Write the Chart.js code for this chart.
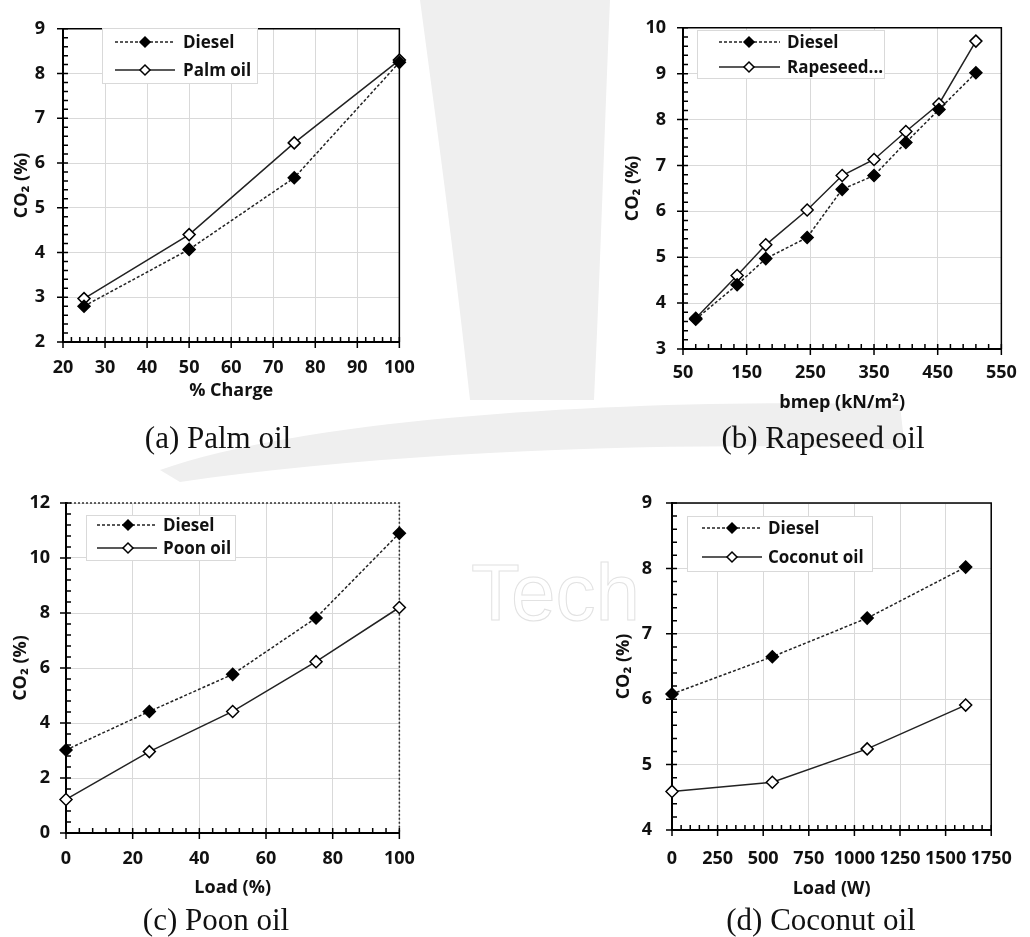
<!DOCTYPE html>
<html>
<head>
<meta charset="utf-8">
<script src="https://cdn.jsdelivr.net/npm/chart.js@4.4.1/dist/chart.umd.min.js"></script>
<style>
  body { margin: 0; background: #fff; }
  #page { position: relative; width: 1030px; height: 937px; overflow: hidden; background: #fff; }
  #page canvas, .caption { position: absolute; }
  .caption {
    font-family: "Liberation Serif", "Times New Roman", serif;
    font-size: 31px; color: #111; white-space: nowrap;
    transform: translate(-50%, -50%);
  }
</style>
</head>
<body>
<div id="page">
  <canvas id="backdrop" width="1030" height="937" style="left:0;top:0"></canvas>
  <canvas id="chartA"></canvas>
  <canvas id="chartB"></canvas>
  <canvas id="chartC"></canvas>
  <canvas id="chartD"></canvas>
  <div class="caption" style="left:218px;top:438px">(a) Palm oil</div>
  <div class="caption" style="left:823px;top:438px">(b) Rapeseed oil</div>
  <div class="caption" style="left:216px;top:920px">(c) Poon oil</div>
  <div class="caption" style="left:821px;top:920px">(d) Coconut oil</div>
</div>
<script>
// (a) palm oil vs diesel, CO2 against % charge
const palmCharge = [25, 50, 75, 100];
const palmDiesel = [2.8, 4.07, 5.67, 8.25];
const palmOil = [2.97, 4.4, 6.45, 8.3];

// (b) rapeseed oil vs diesel, CO2 against bmep
const rapeBmep = [70, 135, 180, 245, 300, 350, 400, 452, 510];
const rapeDiesel = [3.65, 4.4, 4.97, 5.43, 6.48, 6.78, 7.5, 8.22, 9.02];
const rapeOil = [3.67, 4.6, 5.27, 6.03, 6.78, 7.13, 7.74, 8.34, 9.71];

// (c) poon oil vs diesel, CO2 against load %
const poonLoad = [0, 25, 50, 75, 100];
const poonDiesel = [3.02, 4.42, 5.77, 7.82, 10.9];
const poonOil = [1.22, 2.96, 4.42, 6.23, 8.2];

// (d) coconut oil vs diesel, CO2 against load in W
const coconutLoad = [0, 550, 1070, 1610];
const coconutDiesel = [6.08, 6.65, 7.24, 8.02];
const coconutOil = [4.59, 4.73, 5.24, 5.91];

const legendNames = {
  a: ['Diesel', 'Palm oil'],
  b: ['Diesel', 'Rapeseed...'],
  c: ['Diesel', 'Poon oil'],
  d: ['Diesel', 'Coconut oil']
};
const xTitles = { a: '% Charge', b: 'bmep (kN/m\u00B2)', c: 'Load (%)', d: 'Load (W)' };
const yTitle = 'CO\u2082 (%)';

const FONT = '"Open Sans", "DejaVu Sans", sans-serif';
const INK = '#111';

// faint logo watermark behind the figure
(function drawBackdrop() {
  const g = document.getElementById('backdrop').getContext('2d');
  g.fillStyle = '#efefef';
  g.beginPath();
  g.moveTo(420, 0);
  g.lineTo(610, 0);
  g.bezierCurveTo(604, 140, 600, 280, 594, 400);
  g.lineTo(470, 400);
  g.bezierCurveTo(455, 260, 436, 120, 420, 0);
  g.fill();

  g.beginPath();
  g.moveTo(160, 470);
  g.bezierCurveTo(330, 410, 700, 398, 900, 405);
  g.lineTo(905, 450);
  g.bezierCurveTo(700, 440, 400, 450, 180, 482);
  g.closePath();
  g.fill();

  g.strokeStyle = '#e2e2e2';
  g.lineWidth = 1;
  g.font = '80px "Liberation Sans", sans-serif';
  g.strokeText('Tech', 471, 620);
})();

function diamond(ctx, x, y, r) {
  ctx.beginPath();
  ctx.moveTo(x - r, y);
  ctx.lineTo(x, y - r);
  ctx.lineTo(x + r, y);
  ctx.lineTo(x, y + r);
  ctx.closePath();
}

// plot frame, crossing major ticks, inside minor ticks and the boxed legend
const excelLook = {
  id: 'excelLook',
  beforeDatasetsDraw(chart, args, opts) {
    const ctx = chart.ctx;
    const { left, right, top, bottom } = chart.chartArea;
    const xs = chart.scales.x, ys = chart.scales.y;
    ctx.save();
    ctx.strokeStyle = '#000';
    ctx.lineWidth = 1.5;
    if (opts.dottedFrame) { ctx.setLineDash([2, 2]); ctx.strokeStyle = '#333'; }
    ctx.beginPath();
    ctx.moveTo(left, top);
    ctx.lineTo(right, top);
    ctx.lineTo(right, bottom);
    ctx.stroke();
    ctx.setLineDash([]);
    ctx.strokeStyle = '#000';

    ctx.beginPath();
    for (let v = xs.min; v <= xs.max + 1e-9; v += opts.xMinor) {
      const px = xs.getPixelForValue(v);
      ctx.moveTo(px, bottom);
      ctx.lineTo(px, bottom - 5);
    }
    xs.ticks.forEach(t => {
      const px = xs.getPixelForValue(t.value);
      ctx.moveTo(px, bottom - 5);
      ctx.lineTo(px, bottom + 6);
    });
    for (let v = ys.min; v <= ys.max + 1e-9; v += opts.yMinor) {
      const py = ys.getPixelForValue(v);
      ctx.moveTo(left, py);
      ctx.lineTo(left + 5, py);
    }
    ys.ticks.forEach(t => {
      const py = ys.getPixelForValue(t.value);
      ctx.moveTo(left - 6, py);
      ctx.lineTo(left + 5, py);
    });
    ctx.stroke();
    ctx.restore();
  },
  afterDraw(chart, args, opts) {
    const ctx = chart.ctx;
    const L = opts.legend;
    ctx.save();
    ctx.fillStyle = '#fff';
    ctx.fillRect(L.x, L.y, L.w, L.h);
    ctx.strokeStyle = '#d9d9d9';
    ctx.lineWidth = 1;
    ctx.strokeRect(L.x + 0.5, L.y + 0.5, L.w, L.h);
    chart.data.datasets.forEach((ds, i) => {
      const y = L.rows[i];
      ctx.strokeStyle = ds.borderColor;
      ctx.lineWidth = ds.borderWidth;
      ctx.setLineDash(ds.borderDash || []);
      ctx.beginPath();
      ctx.moveTo(L.x1, y);
      ctx.lineTo(L.x2, y);
      ctx.stroke();
      ctx.setLineDash([]);
      diamond(ctx, L.mx, y, ds.pointRadius - 1);
      ctx.fillStyle = ds.pointBackgroundColor;
      ctx.fill();
      ctx.strokeStyle = ds.pointBorderColor;
      ctx.lineWidth = ds.pointBorderWidth;
      ctx.stroke();
      ctx.fillStyle = INK;
      ctx.font = 'bold 17px ' + FONT;
      ctx.textBaseline = 'middle';
      ctx.textAlign = 'left';
      ctx.fillText(ds.label, L.tx, y + 1);
    });
    ctx.restore();
  }
};

function series(label, xs, ys, filled) {
  return {
    label,
    data: xs.map((x, i) => ({ x, y: ys[i] })),
    borderColor: '#222',
    borderWidth: 1.5,
    borderDash: filled ? [3, 2] : [],
    pointStyle: 'rectRot',
    pointRadius: 6,
    pointBackgroundColor: filled ? '#000' : '#fff',
    pointBorderColor: '#000',
    pointBorderWidth: 1.5,
    clip: false,
    tension: 0
  };
}

function makePanel(p) {
  const el = document.getElementById(p.id);
  el.width = p.box.w;
  el.height = p.box.h;
  el.style.left = p.box.x + 'px';
  el.style.top = p.box.y + 'px';
  const plotL = p.plot.l - p.box.x;
  const plotB = p.plot.b - p.box.y;
  const xAxisH = p.box.h - plotB;
  const lh = 18 * 1.2;
  const tickFont = { family: FONT, size: 18, weight: 'bold' };
  const off = (o) => ({ ...o, x: o.x - p.box.x, y: o.y - p.box.y, x1: o.x1 - p.box.x, x2: o.x2 - p.box.x,
    mx: o.mx - p.box.x, tx: o.tx - p.box.x, rows: o.rows.map(r => r - p.box.y) });

  return new Chart(el, {
    type: 'line',
    data: { datasets: p.datasets },
    options: {
      responsive: false,
      animation: false,
      events: [],
      layout: { padding: { left: 0, bottom: 0, top: p.plot.t - p.box.y, right: p.box.x + p.box.w - p.plot.r } },
      plugins: {
        legend: { display: false },
        tooltip: { enabled: false },
        excelLook: { xMinor: p.xMinor, yMinor: p.yMinor, dottedFrame: !!p.dotted, legend: off(p.legend) }
      },
      scales: {
        x: {
          type: 'linear', min: p.xRange[0], max: p.xRange[1],
          ticks: { stepSize: p.xRange[2], autoSkip: false, maxRotation: 0, color: INK, font: tickFont,
                   padding: p.xTickY - p.plot.b - lh / 2, callback: v => String(v) },
          grid: { color: '#d9d9d9', lineWidth: 1, drawTicks: false },
          border: { color: '#000', width: 2 },
          title: { display: true, text: p.xTitle, color: INK, font: tickFont,
                   padding: { top: 0, bottom: p.box.y + p.box.h - p.xTitleY - lh / 2 } },
          afterFit(s) { s.height = xAxisH; }
        },
        y: {
          type: 'linear', min: p.yRange[0], max: p.yRange[1],
          ticks: { stepSize: p.yRange[2], color: INK, font: tickFont, padding: p.yGap, callback: v => String(v) },
          grid: { color: '#d9d9d9', lineWidth: 1, drawTicks: false },
          border: { color: '#000', width: 2 },
          title: { display: true, text: yTitle, color: INK, font: tickFont,
                   padding: { top: p.yTitleX - p.box.x - lh / 2, bottom: 0 } },
          afterFit(s) { s.width = plotL; }
        }
      }
    },
    plugins: [excelLook]
  });
}

makePanel({
  id: 'chartA', box: { x: 0, y: 0, w: 430, h: 420 },
  plot: { l: 63, t: 21, r: 402, b: 342 },
  xRange: [20, 100, 10], yRange: [2, 9, 1], xMinor: 2, yMinor: 0.2,
  xTickY: 368, xTitleY: 391, yGap: 18, yTitleX: 22, xTitle: xTitles.a,
  legend: { x: 102, y: 28, w: 155, h: 55, x1: 115, x2: 175, mx: 145, tx: 183, rows: [42, 70] },
  datasets: [series(legendNames.a[0], palmCharge, palmDiesel, true),
             series(legendNames.a[1], palmCharge, palmOil, false)]
});

makePanel({
  id: 'chartB', box: { x: 600, y: 0, w: 430, h: 420 },
  plot: { l: 683, t: 21, r: 1004, b: 349 },
  xRange: [50, 550, 100], yRange: [3, 10, 1], xMinor: 20, yMinor: 0.2,
  xTickY: 373, xTitleY: 403, yGap: 17, yTitleX: 633, xTitle: xTitles.b,
  legend: { x: 697, y: 30, w: 187, h: 48, x1: 719, x2: 780, mx: 749, tx: 787, rows: [42, 67] },
  datasets: [series(legendNames.b[0], rapeBmep, rapeDiesel, true),
             series(legendNames.b[1], rapeBmep, rapeOil, false)]
});

makePanel({
  id: 'chartC', box: { x: 0, y: 470, w: 430, h: 467 },
  plot: { l: 66, t: 503, r: 408, b: 833 },
  xRange: [0, 100, 20], yRange: [0, 12, 2], xMinor: 4, yMinor: 0.4, dotted: true,
  xTickY: 859, xTitleY: 888, yGap: 16, yTitleX: 21, xTitle: xTitles.c,
  legend: { x: 86, y: 515, w: 149, h: 45, x1: 97, x2: 157, mx: 128, tx: 163, rows: [525, 548] },
  datasets: [series(legendNames.c[0], poonLoad, poonDiesel, true),
             series(legendNames.c[1], poonLoad, poonOil, false)]
});

makePanel({
  id: 'chartD', box: { x: 600, y: 470, w: 430, h: 467 },
  plot: { l: 672, t: 503, r: 1006, b: 830 },
  xRange: [0, 1750, 250], yRange: [4, 9, 1], xMinor: 50, yMinor: 0.2,
  xTickY: 859, xTitleY: 889, yGap: 20, yTitleX: 624, xTitle: xTitles.d,
  legend: { x: 687, y: 516, w: 185, h: 55, x1: 702, x2: 762, mx: 732, tx: 768, rows: [528, 557] },
  datasets: [series(legendNames.d[0], coconutLoad, coconutDiesel, true),
             series(legendNames.d[1], coconutLoad, coconutOil, false)]
});
</script>
</body>
</html>
